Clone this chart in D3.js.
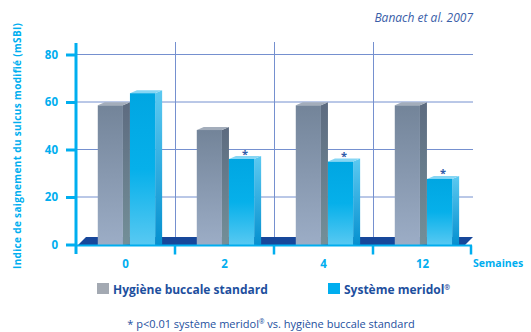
<!DOCTYPE html>
<html>
<head>
<meta charset="utf-8">
<script src="https://cdn.jsdelivr.net/npm/d3@7"></script>
<style>
  body { margin: 0; background: #fff; }
  svg { display: block; }
  text { font-family: "Open Sans", "Lato", sans-serif; }
</style>
</head>
<body>
<div id="view"></div>
<script>
var weeks = ["0", "2", "4", "12"];
var series = ["Hygiène buccale standard", "Système meridol"];
var standard = [58.6, 48.2, 58.6, 58.6];
var meridol = [63.7, 36.0, 34.9, 27.6];
var significant = [false, true, true, true];
var yTicks = [0, 20, 40, 60, 80];

var view = {
    width: 531,
    height: 332,
    left: 76,
    right: 472,
    top: 54.5,
    bottom: 244.5,
    depth: 7,
    rise: 3,
    cyan: "#00aeef",
    grid: "#7590cf",
    navy: "#1d4f9e",
};

var svg = d3.select("#view").append("svg")
    .attr("width", view.width)
    .attr("height", view.height);

var defs = svg.append("defs");
function grad(id, stops) {
    var g = defs.append("linearGradient").attr("id", id)
        .attr("x1", 0).attr("y1", 0).attr("x2", 0).attr("y2", 1);
    stops.forEach(s => g.append("stop").attr("offset", s[0]).attr("stop-color", s[1]));
}
grad("grayFront", [[0, "#738499"], [1, "#9cadc6"]]);
grad("graySide", [[0, "#5d6b80"], [1, "#738f98"]]);
grad("cyanFront", [[0, "#00a6e2"], [0.5, "#06b0ea"], [1, "#58c9f2"]]);
grad("cyanSide", [[0, "#5cc9f1"], [1, "#0590cf"]]);

var x = d3.scaleBand().domain(weeks).range([view.left, view.right]);
var xSub = d3.scaleBand().domain(series)
    .range([x.bandwidth() * 0.22, x.bandwidth() * 0.87]);
var y = d3.scaleLinear().domain([0, 80]).range([view.bottom, view.top]);

// grid
var grid = svg.append("g");
grid.selectAll(".h").data(yTicks.filter(d => d > 0)).enter().append("line")
    .attr("x1", view.left).attr("x2", view.right + 1)
    .attr("y1", d => y(d)).attr("y2", d => y(d))
    .attr("stroke", view.grid).attr("stroke-width", 1);
grid.selectAll(".v").data(weeks.slice(1)).enter().append("line")
    .attr("x1", d => x(d) + 0.5).attr("x2", d => x(d) + 0.5)
    .attr("y1", 42).attr("y2", view.bottom)
    .attr("stroke", view.grid).attr("stroke-width", 1);

// floor
var f0 = view.bottom + 0.5, f1 = f0 - 8;
svg.append("path")
    .attr("d", `M${view.left + 2},${f0} L${view.left + 10},${f1} L${view.right + 1},${f1} L${view.right - 7},${f0} Z`)
    .attr("fill", "#17479a");

// bars
var rows = weeks.map((w, i) => [
    {week: w, s: series[0], v: standard[i], front: "url(#grayFront)", side: "url(#graySide)", topc: "#a3adbb"},
    {week: w, s: series[1], v: meridol[i], front: "url(#cyanFront)", side: "url(#cyanSide)", topc: "#86d6f4", star: significant[i]},
]).flat();

var bw = xSub.bandwidth() - view.depth;
var bars = svg.append("g").selectAll("g").data(rows).enter().append("g")
    .attr("transform", d => `translate(${x(d.week) + xSub(d.s)},0)`);
bars.append("path")
    .attr("d", d => `M${bw},${y(d.v)} L${bw + view.depth},${y(d.v) - view.rise} L${bw + view.depth},${y(0)} L${bw},${y(0) + 0.5} Z`)
    .attr("fill", d => d.side);
bars.append("path")
    .attr("d", d => `M0,${y(d.v)} L${view.depth},${y(d.v) - view.rise} L${bw + view.depth},${y(d.v) - view.rise} L${bw},${y(d.v)} Z`)
    .attr("fill", d => d.topc);
bars.append("rect")
    .attr("x", 0).attr("y", d => y(d.v))
    .attr("width", bw).attr("height", d => y(0) - y(d.v) + 0.5)
    .attr("fill", d => d.front);
bars.filter(d => d.star).append("text")
    .attr("x", (bw + view.depth) / 2).attr("y", d => y(d.v) - 1.5)
    .attr("text-anchor", "middle")
    .attr("font-size", 11).attr("font-weight", "bold").attr("fill", "#2f5aa8")
    .text("*");

// axes
var yAxis = svg.append("g")
    .attr("transform", `translate(${view.left},0)`)
    .call(d3.axisLeft(y).tickValues(yTicks).tickSize(10).tickPadding(8));
yAxis.select(".domain").remove();
yAxis.selectAll("line").attr("stroke", view.cyan).attr("stroke-width", 3);
yAxis.selectAll("text").attr("fill", view.cyan)
    .attr("font-size", 11.5).attr("font-weight", "bold")
    .attr("font-family", "Open Sans, sans-serif");
svg.append("line")
    .attr("x1", view.left).attr("x2", view.left)
    .attr("y1", 43).attr("y2", 254)
    .attr("stroke", view.cyan).attr("stroke-width", 3);

var xAxis = svg.append("g")
    .attr("transform", `translate(0,${view.bottom + 1})`);
xAxis.append("line")
    .attr("x1", view.left).attr("x2", view.right)
    .attr("stroke", view.cyan).attr("stroke-width", 2);
xAxis.selectAll(".tk").data(weeks.slice(1).concat(["end"])).enter().append("line")
    .attr("x1", d => d === "end" ? view.right - 1 : x(d))
    .attr("x2", d => d === "end" ? view.right - 1 : x(d))
    .attr("y1", 0).attr("y2", 9)
    .attr("stroke", view.cyan).attr("stroke-width", 2.5);
xAxis.selectAll(".lb").data(weeks).enter().append("text")
    .attr("x", d => x(d) + x.bandwidth() / 2)
    .attr("y", 22)
    .attr("text-anchor", "middle")
    .attr("font-size", 11.5).attr("font-weight", "bold")
    .attr("fill", view.cyan)
    .text(d => d);
xAxis.append("text")
    .attr("x", 473).attr("y", 21.5)
    .attr("font-size", 10.5).attr("font-weight", "bold")
    .attr("fill", view.cyan)
    .text("Semaines");

svg.append("text")
    .attr("transform", "translate(21,146) rotate(-90)")
    .attr("text-anchor", "middle")
    .attr("font-size", 10).attr("font-weight", "bold")
    .attr("textLength", 246).attr("lengthAdjust", "spacing")
    .attr("fill", view.cyan)
    .text("Indice de saignement du sulcus modifié (mSBI)");

svg.append("text")
    .attr("x", 473).attr("y", 22)
    .attr("text-anchor", "end")
    .attr("font-size", 12).attr("font-style", "italic")
    .attr("fill", "#3a5ea8")
    .text("Banach et al. 2007");

// legend
var legend = [
    {label: series[0], color: "#a3a9b2", x: 97},
    {label: series[1], color: "#00aeef", x: 328, reg: true},
];
var lg = svg.append("g").selectAll("g").data(legend).enter().append("g")
    .attr("transform", d => `translate(${d.x},283)`);
lg.append("rect").attr("width", 12).attr("height", 11).attr("fill", d => d.color);
var lt = lg.append("text").attr("x", 16).attr("y", 10.5)
    .attr("font-size", 12).attr("font-weight", "bold")
    .attr("fill", view.navy)
    .text(d => d.label);
lt.filter(d => d.reg).append("tspan")
    .attr("font-size", 7).attr("dy", -4).text("®");

var foot = svg.append("text")
    .attr("x", 271).attr("y", 328)
    .attr("text-anchor", "middle")
    .attr("font-size", 11).attr("fill", view.navy);
foot.append("tspan").text("* p<0.01 système meridol");
foot.append("tspan").attr("font-size", 6.5).attr("dy", -4).text("®");
foot.append("tspan").attr("dy", 4).text(" vs. hygiène buccale standard");
</script>
</body>
</html>
